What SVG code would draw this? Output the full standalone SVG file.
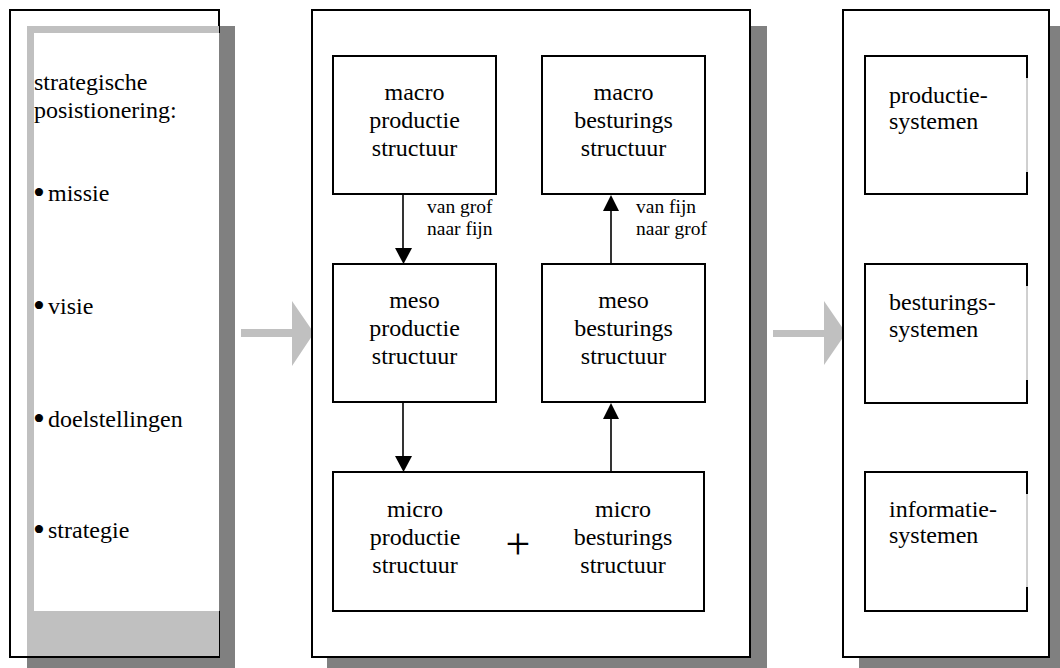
<svg xmlns="http://www.w3.org/2000/svg" width="1060" height="668" viewBox="0 0 1060 668">
  <style>
    .frame { fill: #ffffff; stroke: #000000; stroke-width: 2; }
    .shadow { fill: #808080; }
    .box { fill: #ffffff; stroke: #000000; stroke-width: 2; }
    text { font-family: 'Liberation Serif', 'Times New Roman', Times, 'DejaVu Serif', serif; fill: #000000; }
    .t { font-size: 24px; }
    .c { text-anchor: middle; }
    .s { font-size: 19.5px; }
    .bul { font-size: 34px; }
    .big { fill: #c0c0c0; }
    .conn { stroke: #000000; stroke-width: 1.6; fill: none; }
    .head { fill: #000000; }
    .edge { stroke: #a0a0a0; stroke-width: 1; }
  </style>

  <!-- left panel: strategic positioning -->
  <g id="strategie-paneel">
    <rect class="shadow" x="27" y="26" width="208" height="642"/>
    <rect class="frame" x="10" y="10" width="209" height="647"/>
    <rect fill="#c0c0c0" x="27" y="26" width="192" height="630"/>
    <rect fill="#ffffff" x="34" y="33" width="185.5" height="578"/>
    <text class="t" x="34" y="90">strategische</text>
    <text class="t" x="34" y="118">posistionering:</text>
    <text class="t" y="201"><tspan class="bul" x="33" y="204">•</tspan><tspan x="48" y="201">missie</tspan></text>
    <text class="t" y="314"><tspan class="bul" x="33" y="317">•</tspan><tspan x="48" y="314">visie</tspan></text>
    <text class="t" y="427"><tspan class="bul" x="33" y="430">•</tspan><tspan x="48" y="427">doelstellingen</tspan></text>
    <text class="t" y="538"><tspan class="bul" x="33" y="541">•</tspan><tspan x="48" y="538">strategie</tspan></text>
  </g>

  <!-- wide grey transition arrows -->
  <g id="overgang-pijlen">
    <polygon class="big" points="241,329 292,329 292,301 314,333 292,366 292,337 241,337"/>
    <polygon class="big" points="773,330 824,330 824,301 846,333 824,365 824,337 773,337"/>
  </g>

  <!-- middle panel: structures -->
  <g id="structuur-paneel">
    <rect class="shadow" x="327" y="26" width="440" height="642"/>
    <rect class="frame" x="312" y="10" width="438" height="647"/>
  </g>

  <g id="macro-productie">
    <rect class="box" x="333" y="56" width="163" height="138"/>
    <text class="t c" x="414.5" y="100">macro</text>
    <text class="t c" x="414.5" y="128">productie</text>
    <text class="t c" x="414.5" y="156">structuur</text>
  </g>
  <g id="macro-besturing">
    <rect class="box" x="542" y="56" width="163" height="138"/>
    <text class="t c" x="623.5" y="100">macro</text>
    <text class="t c" x="623.5" y="128">besturings</text>
    <text class="t c" x="623.5" y="156">structuur</text>
  </g>
  <g id="meso-productie">
    <rect class="box" x="333" y="264" width="163" height="138"/>
    <text class="t c" x="414.5" y="308">meso</text>
    <text class="t c" x="414.5" y="336">productie</text>
    <text class="t c" x="414.5" y="364">structuur</text>
  </g>
  <g id="meso-besturing">
    <rect class="box" x="542" y="264" width="163" height="138"/>
    <text class="t c" x="623.5" y="308">meso</text>
    <text class="t c" x="623.5" y="336">besturings</text>
    <text class="t c" x="623.5" y="364">structuur</text>
  </g>
  <g id="micro">
    <rect class="box" x="333" y="472" width="371" height="139"/>
    <text class="t c" x="415" y="517">micro</text>
    <text class="t c" x="415" y="545">productie</text>
    <text class="t c" x="415" y="573">structuur</text>
    <text class="t c" x="623" y="517">micro</text>
    <text class="t c" x="623" y="545">besturings</text>
    <text class="t c" x="623" y="573">structuur</text>
    <text class="c" x="518" y="559" style="font-size:44px">+</text>
  </g>

  <!-- connectors between levels -->
  <g id="verbindingen">
    <line class="conn" x1="403" y1="194" x2="403" y2="249"/>
    <polygon class="head" points="395,248 412,248 403.5,264"/>
    <line class="conn" x1="611" y1="264" x2="611" y2="210"/>
    <polygon class="head" points="603,211 619,211 611,195"/>
    <line class="conn" x1="403" y1="402" x2="403" y2="457"/>
    <polygon class="head" points="395,456 412,456 403.5,472"/>
    <line class="conn" x1="611" y1="472" x2="611" y2="418"/>
    <polygon class="head" points="603,419 619,419 611,403"/>
    <text class="s" x="427" y="213">van grof</text>
    <text class="s" x="427" y="235">naar fijn</text>
    <text class="s" x="636" y="213">van fijn</text>
    <text class="s" x="636" y="235">naar grof</text>
  </g>

  <!-- right panel: systems -->
  <g id="systemen-paneel">
    <rect class="shadow" x="859" y="26" width="201" height="642"/>
    <rect class="frame" x="843" y="10" width="206" height="647"/>
  </g>

  <g id="productiesystemen">
    <path class="box" d="M1027,78 V56 H865 V194 H1027 V172"/>
    <line class="edge" x1="1027" y1="78" x2="1027" y2="172"/>
    <text class="t" x="889" y="103">productie-</text>
    <text class="t" x="889" y="129">systemen</text>
  </g>
  <g id="besturingssystemen">
    <path class="box" d="M1027,286 V264 H865 V403 H1027 V380"/>
    <line class="edge" x1="1027" y1="286" x2="1027" y2="380"/>
    <text class="t" x="889" y="310">besturings-</text>
    <text class="t" x="889" y="337">systemen</text>
  </g>
  <g id="informatiesystemen">
    <path class="box" d="M1027,494 V472 H865 V611 H1027 V587"/>
    <line class="edge" x1="1027" y1="494" x2="1027" y2="587"/>
    <text class="t" x="889" y="517">informatie-</text>
    <text class="t" x="889" y="543">systemen</text>
  </g>
</svg>
